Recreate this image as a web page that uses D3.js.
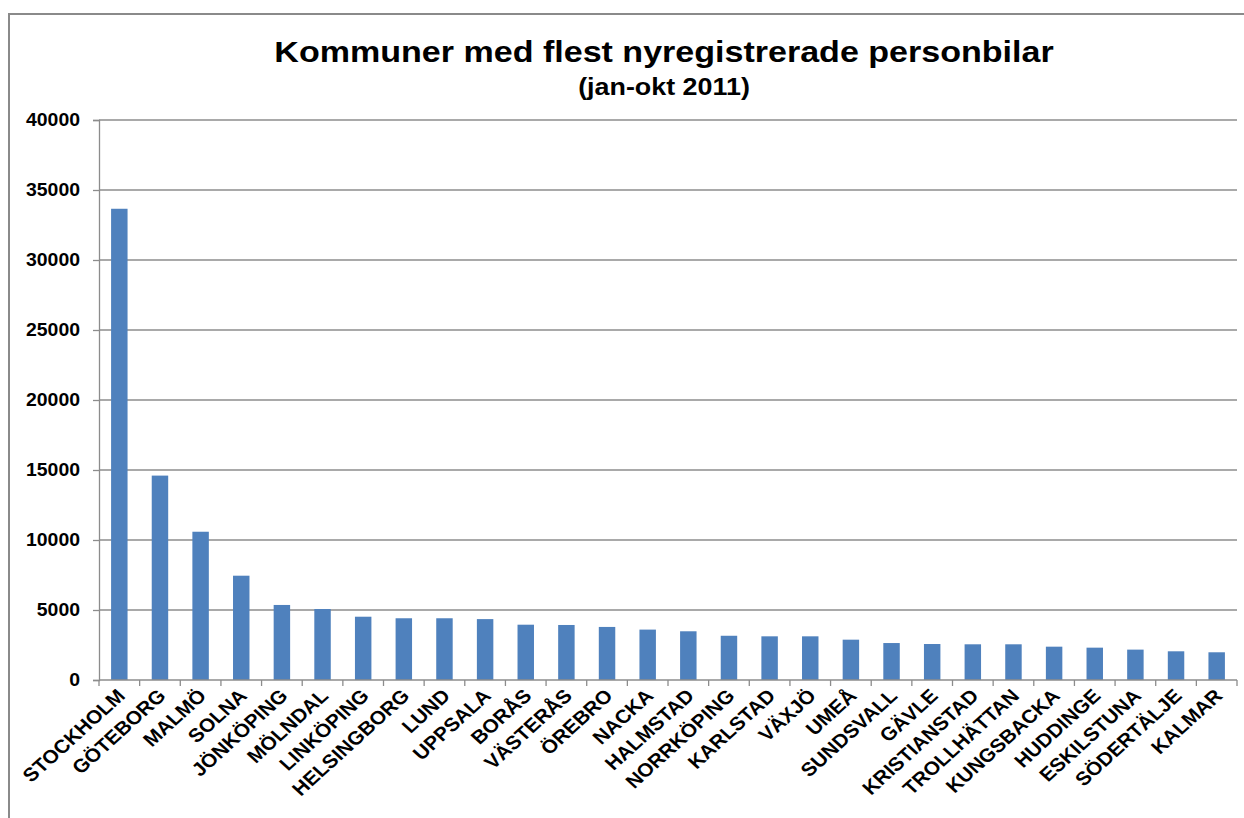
<!DOCTYPE html>
<html>
<head>
<meta charset="utf-8">
<script src="https://cdn.jsdelivr.net/npm/d3@7"></script>
<style>
  body { margin: 0; background: #fff; }
  svg { display: block; font-family: Arial, "Liberation Sans", sans-serif; }
  .tick text { font-weight: bold; fill: #000; }
</style>
</head>
<body>
<svg></svg>
<script>
var width = 1244, height = 818;

// kommuner, jan-okt 2011
var kommuner = ["STOCKHOLM", "GÖTEBORG", "MALMÖ", "SOLNA", "JÖNKÖPING", "MÖLNDAL",
	"LINKÖPING", "HELSINGBORG", "LUND", "UPPSALA", "BORÅS", "VÄSTERÅS", "ÖREBRO",
	"NACKA", "HALMSTAD", "NORRKÖPING", "KARLSTAD", "VÄXJÖ", "UMEÅ", "SUNDSVALL",
	"GÄVLE", "KRISTIANSTAD", "TROLLHÄTTAN", "KUNGSBACKA", "HUDDINGE", "ESKILSTUNA",
	"SÖDERTÄLJE", "KALMAR"];
var antal = [33660, 14600, 10590, 7450, 5360, 5070, 4520, 4410, 4410, 4350, 3950,
	3930, 3790, 3600, 3480, 3160, 3120, 3120, 2880, 2640, 2570, 2550, 2550, 2380,
	2310, 2170, 2050, 1980];
var yTicks = [0, 5000, 10000, 15000, 20000, 25000, 30000, 35000, 40000];

var margin = {top: 120, right: 7, bottom: 138, left: 99};
var sx = 1.12; // the picture is a bit wider than tall, text too

var svg = d3.select("svg")
	.attr("width", width)
	.attr("height", height);

// chart frame, runs off the right and bottom edge
svg.append("rect")
	.attr("x", 9).attr("y", 14)
	.attr("width", width).attr("height", height)
	.attr("fill", "none")
	.attr("stroke", "#8a8a8a")
	.attr("stroke-width", 2);

svg.append("text")
	.attr("transform", "translate(664,62) scale(1.135,1)")
	.attr("text-anchor", "middle")
	.style("font-size", "30px").style("font-weight", "bold")
	.text("Kommuner med flest nyregistrerade personbilar");

svg.append("text")
	.attr("transform", "translate(664,95) scale(" + sx + ",1)")
	.attr("text-anchor", "middle")
	.style("font-size", "24px").style("font-weight", "bold")
	.text("(jan-okt 2011)");

var x = d3.scaleBand()
	.domain(kommuner)
	.range([margin.left, width - margin.right])
	.paddingInner(0.595)
	.paddingOuter(0.2975);

var y = d3.scaleLinear()
	.domain([0, 40000])
	.range([height - margin.bottom, margin.top]);

// gridlines
svg.append("g")
	.selectAll("line")
	.data(yTicks.slice(1))
	.enter()
	.append("line")
	.attr("x1", margin.left).attr("x2", width - margin.right)
	.attr("y1", function(d) { return y(d); })
	.attr("y2", function(d) { return y(d); })
	.attr("stroke", "#8c8c8c")
	.attr("stroke-width", 1.3);

var yAxis = svg.append("g")
	.attr("transform", "translate(" + margin.left + ",0)")
	.call(d3.axisLeft(y).tickValues(yTicks).tickSize(6).tickFormat(d3.format("d")));
yAxis.selectAll(".tick text")
	.attr("x", null)
	.attr("transform", "translate(-19,0) scale(1.08,1)")
	.style("font-size", "18px");
yAxis.select(".domain").attr("stroke", "#8c8c8c").attr("stroke-width", 1.3);
yAxis.selectAll(".tick line").attr("stroke", "#8c8c8c").attr("stroke-width", 1.3);

svg.append("g")
	.selectAll("rect")
	.data(antal)
	.enter()
	.append("rect")
	.attr("x", function(d, i) { return x(kommuner[i]); })
	.attr("y", function(d) { return y(d); })
	.attr("width", x.bandwidth())
	.attr("height", function(d) { return y(0) - y(d); })
	.attr("fill", "#4f81bd");

// x axis with ticks between categories
var step = x.step();
var xAxis = svg.append("g")
	.attr("transform", "translate(0," + y(0) + ")");
xAxis.append("line")
	.attr("x1", margin.left).attr("x2", width - margin.right)
	.attr("stroke", "#8c8c8c").attr("stroke-width", 1.3);
xAxis.selectAll(".sep")
	.data(d3.range(kommuner.length + 1))
	.enter()
	.append("line")
	.attr("class", "sep")
	.attr("x1", function(i) { return margin.left + i * step; })
	.attr("x2", function(i) { return margin.left + i * step; })
	.attr("y1", 0).attr("y2", 6)
	.attr("stroke", "#8c8c8c").attr("stroke-width", 1.3);

xAxis.selectAll(".lbl")
	.data(kommuner)
	.enter()
	.append("text")
	.attr("class", "lbl")
	.attr("text-anchor", "end")
	.attr("transform", function(d) {
		return "translate(" + (x(d) + x.bandwidth() / 2 + 7) + ",17) scale(1.1,1) rotate(-45)";
	})
	.style("font-size", "19px").style("font-weight", "bold")
	.text(function(d) { return d; });
</script>
</body>
</html>
